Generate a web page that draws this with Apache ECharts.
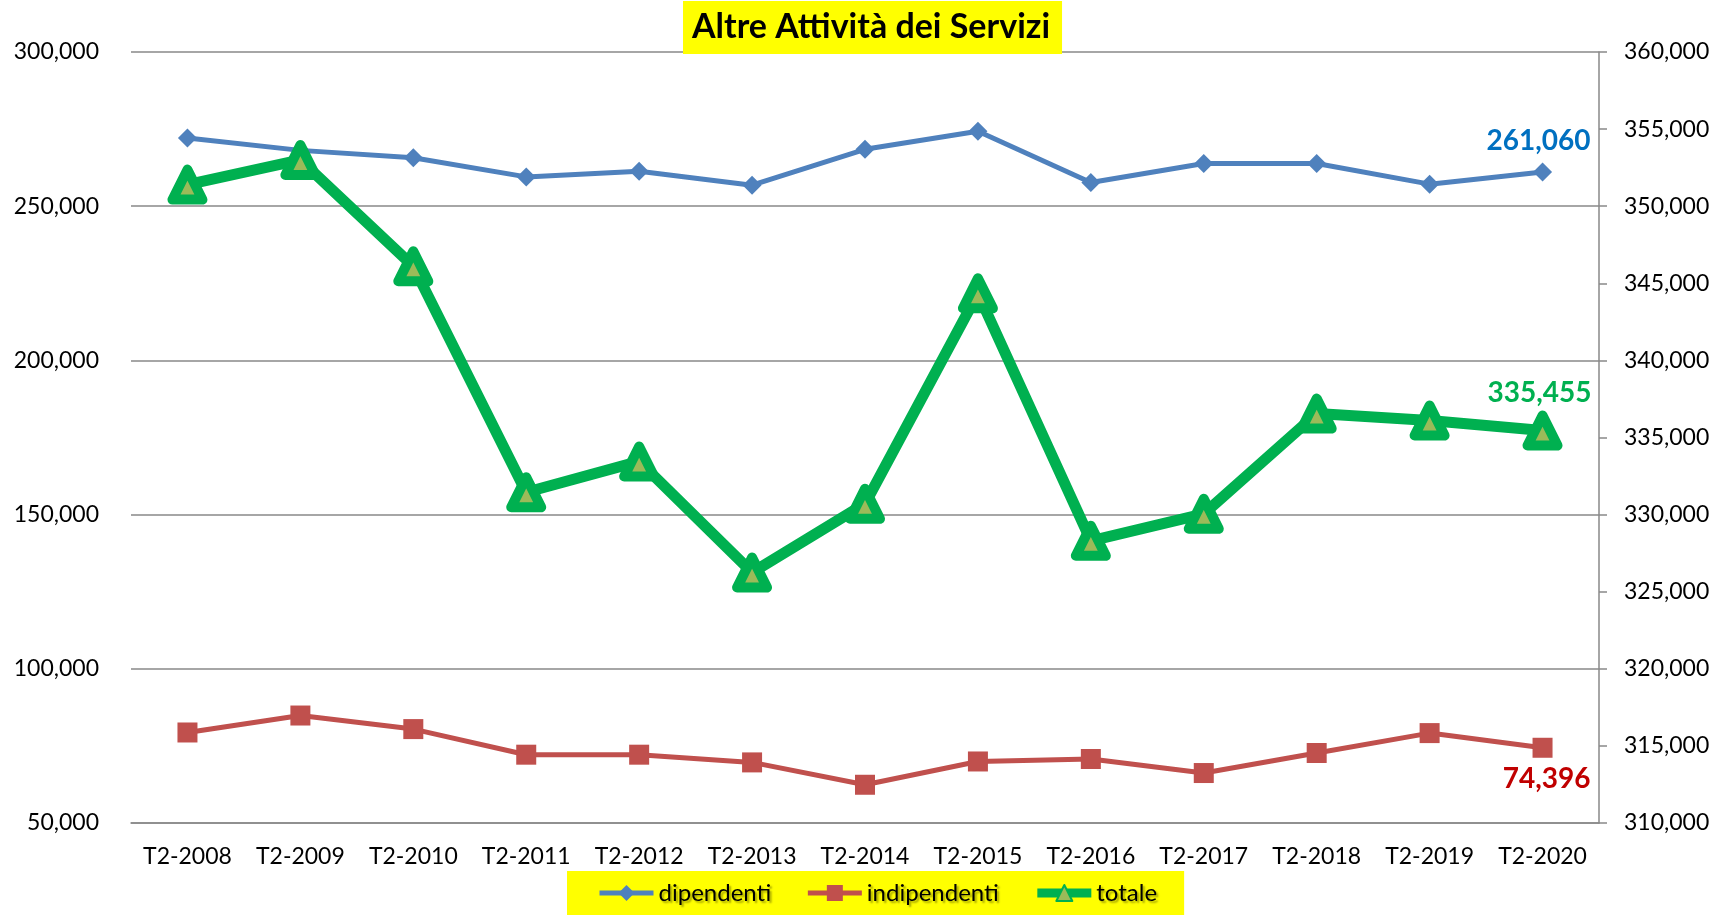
<!DOCTYPE html>
<html>
<head>
<meta charset="utf-8">
<script src="https://cdn.jsdelivr.net/npm/echarts@6/dist/echarts.min.js"></script>
<style>
html,body{margin:0;padding:0;background:#fff;}
#chart{width:1729px;height:915px;}
</style>
</head>
<body>
<div id="chart"></div>
<script>
const categories = ['T2-2008','T2-2009','T2-2010','T2-2011','T2-2012','T2-2013','T2-2014','T2-2015','T2-2016','T2-2017','T2-2018','T2-2019','T2-2020'];
const dipendenti = [272100, 268100, 265700, 259500, 261350, 256800, 268450, 274300, 257700, 263850, 263850, 257150, 261060];
const indipendenti = [79350, 84850, 80450, 72150, 72150, 69650, 62400, 69950, 70750, 66200, 72700, 79150, 74396];
const totale = [351400, 353000, 346100, 331450, 333450, 326250, 330700, 344350, 328300, 330050, 336550, 336100, 335455];
const seriesNames = ['dipendenti', 'indipendenti', 'totale'];

const FONT = 'Lato';
const fmt = v => Number(v).toLocaleString('en-US');
const last = categories.length - 1;

function withLastLabel(arr, label) {
  return arr.map((v, i) => i === last ? { value: v, label: Object.assign({ show: true, formatter: p => fmt(p.value), fontFamily: FONT, fontWeight: 'bold', fontSize: 28 }, label) } : v);
}

const chart = echarts.init(document.getElementById('chart'));
chart.setOption({
  animation: false,
  backgroundColor: '#ffffff',
  title: {
    text: 'Altre Attività dei Servizi',
    left: 683, top: 1,
    padding: [6, 12, 6, 9],
    backgroundColor: '#FFFF00',
    textStyle: { fontFamily: FONT, fontWeight: 'bold', fontSize: 34, color: '#000', lineHeight: 41 }
  },
  legend: {
    data: [
      { name: seriesNames[0], lineStyle: { width: 5 } },
      { name: seriesNames[1], lineStyle: { width: 5 } },
      { name: seriesNames[2], lineStyle: { width: 9 } }
    ],
    left: 567, top: 871,
    padding: [10, 27, 10, 30],
    backgroundColor: '#FFFF00',
    itemWidth: 54, itemHeight: 20, itemGap: 34,
    textStyle: { fontFamily: FONT, fontSize: 24, color: '#000', lineHeight: 24,
      textShadowColor: 'rgba(0,0,0,0.35)', textShadowBlur: 2, textShadowOffsetX: 2, textShadowOffsetY: 2 }
  },
  grid: { left: 131, right: 130, top: 52, bottom: 92, containLabel: false },
  xAxis: {
    type: 'category', data: categories, boundaryGap: true,
    axisLine: { show: true, lineStyle: { color: '#898989', width: 1.5 } },
    axisTick: { show: false },
    axisLabel: { fontFamily: FONT, fontSize: 23, color: '#000', margin: 22, interval: 0 }
  },
  yAxis: [
    {
      type: 'value', min: 50000, max: 300000, interval: 50000, position: 'left',
      axisLine: { show: false }, axisTick: { show: false },
      splitLine: { show: true, lineStyle: { color: '#898989', width: 1.5 } },
      axisLabel: { fontFamily: FONT, fontSize: 23, color: '#000', margin: 32, formatter: fmt }
    },
    {
      type: 'value', min: 310000, max: 360000, interval: 5000, position: 'right',
      axisLine: { show: true, lineStyle: { color: '#898989', width: 1.5 } },
      axisTick: { show: true, inside: false, length: 8, lineStyle: { color: '#898989', width: 1.5 } },
      splitLine: { show: false },
      axisLabel: { fontFamily: FONT, fontSize: 23, color: '#000', margin: 25, formatter: fmt }
    }
  ],
  series: [
    {
      name: seriesNames[0], type: 'line', yAxisIndex: 0,
      data: withLastLabel(dipendenti, { position: 'top', distance: 8, color: '#0070C0', offset: [-4, 0] }),
      symbol: 'diamond', symbolSize: 19,
      lineStyle: { color: '#4F81BD', width: 5 },
      itemStyle: { color: '#4F81BD' }, z: 3
    },
    {
      name: seriesNames[1], type: 'line', yAxisIndex: 0,
      data: withLastLabel(indipendenti, { position: 'bottom', distance: 7, color: '#C00000', offset: [4, 0] }),
      symbol: 'rect', symbolSize: 20,
      lineStyle: { color: '#C0504D', width: 5 },
      itemStyle: { color: '#C0504D' }, z: 3
    },
    {
      name: seriesNames[2], type: 'line', yAxisIndex: 1,
      data: withLastLabel(totale, { position: 'top', distance: 4, color: '#00B050', offset: [-3, 0] }),
      symbol: 'triangle', symbolSize: 30,
      lineStyle: { color: '#00B050', width: 11, join: 'round' },
      itemStyle: { color: '#9BBB59', borderColor: '#00B050', borderWidth: 10, borderJoin: 'round' }, z: 4
    }
  ]
});
</script>
</body>
</html>
